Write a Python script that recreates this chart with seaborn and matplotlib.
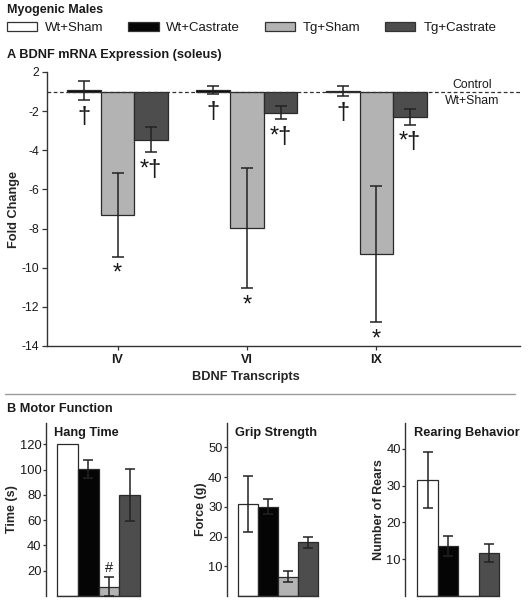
import numpy as np
import pandas as pd
import matplotlib
matplotlib.use('Agg')
import matplotlib.pyplot as plt
import seaborn as sns
from matplotlib.patches import Patch
from matplotlib.lines import Line2D

# groups / colours
groups = ['Wt+Sham', 'Wt+Castrate', 'Tg+Sham', 'Tg+Castrate']
colors = ['#ffffff', '#050505', '#b3b3b3', '#4d4d4d']

# A: BDNF mRNA fold change (Wt+Sham is the control line)
transcripts = ['IV', 'VI', 'IX']
wt_castrate_fc = [1.06, 1.07, 1.04]
wt_castrate_err = [0.47, 0.21, 0.26]
tg_sham_fc = [-7.31, -7.98, -9.30]
tg_sham_err = [2.13, 3.08, 3.49]
tg_castrate_fc = [-3.45, -2.08, -2.29]
tg_castrate_err = [0.66, 0.34, 0.41]
fc_marks = [['†', '*', '*†'], ['†', '*', '*†'], ['†', '*', '*†']]
fc_ticks = [2, -2, -4, -6, -8, -10, -12, -14]

# B: motor function
hang_time = [120, 100.5, 7.4, 80.1]
hang_err = [np.nan, 6.8, 7.4, 20.5]
grip = [31.0, 30.1, 6.5, 18.0]
grip_err = [9.5, 2.6, 1.8, 1.8]
rears = [31.5, 13.6, 0, 11.7]
rears_err = [7.5, 2.8, np.nan, 2.4]

sns.set_theme(style='white')
plt.rcParams['font.family'] = ['Liberation Sans', 'DejaVu Sans']
plt.rcParams['axes.edgecolor'] = '#333333'
plt.rcParams['axes.linewidth'] = 1.0
plt.rcParams['text.color'] = '#1a1a1a'
plt.rcParams['xtick.color'] = '#333333'
plt.rcParams['ytick.color'] = '#333333'
plt.rcParams['xtick.labelcolor'] = '#1a1a1a'
plt.rcParams['ytick.labelcolor'] = '#1a1a1a'

W, H = 529, 600
fig = plt.figure(figsize=(W / 100, H / 100), dpi=100)


def fig_box(x0, y_top, x1, y_bot):
    return [x0 / W, 1 - y_bot / H, (x1 - x0) / W, (y_bot - y_top) / H]


def to_axis(f):
    # fold change axis jumps from +1 to -1 at the control line
    return f - 1 if f > 0 else f + 1


# headers, legend, separator
fig.text(7 / W, 1 - 10 / H, 'Myogenic Males', fontsize=9, fontweight='bold', va='center')
fig.text(7 / W, 1 - 55 / H, 'A BDNF mRNA Expression (soleus)', fontsize=9.2, fontweight='bold', va='center')
fig.text(7 / W, 1 - 409 / H, 'B Motor Function', fontsize=9.2, fontweight='bold', va='center')
fig.add_artist(Line2D([5 / W, 515 / W], [1 - 394 / H, 1 - 394 / H], color='#9a9a9a', lw=1.0))

handles = [Patch(facecolor=c, edgecolor='#333333', linewidth=0.9) for c in colors]
fig.legend(handles, groups, loc='center left', bbox_to_anchor=(7 / W, 1 - 28 / H), ncol=4,
           frameon=False, fontsize=9.5, handlelength=2.3, handleheight=0.75,
           handletextpad=0.6, columnspacing=1.85, borderpad=0, borderaxespad=0)

# ---- panel A ----
hue_order = ['Wt+Castrate', 'Tg+Sham', 'Tg+Castrate']
rows = []
for i, t in enumerate(transcripts):
    for g, vals, errs in zip(hue_order,
                             [wt_castrate_fc, tg_sham_fc, tg_castrate_fc],
                             [wt_castrate_err, tg_sham_err, tg_castrate_err]):
        rows.append({'transcript': t, 'group': g, 'pos': to_axis(vals[i]), 'err': errs[i], 'ti': i})
df = pd.DataFrame(rows)
df['gi'] = df['group'].map({g: k for k, g in enumerate(hue_order)})
df = df.sort_values(['ti', 'gi']).reset_index(drop=True)

ax = fig.add_axes(fig_box(47, 72, 520, 346))
sns.barplot(data=df, x='transcript', y='pos', hue='group', order=transcripts, hue_order=hue_order,
            palette=colors[1:], width=0.78, errorbar=None, edgecolor='#2a2a2a', linewidth=0.9,
            legend=False, ax=ax)
bars = sorted([p for p in ax.patches], key=lambda p: p.get_x())
xs = [p.get_x() + p.get_width() / 2 for p in bars]
ax.errorbar(xs, df['pos'], yerr=df['err'], fmt='none', ecolor='#222222', elinewidth=1.1,
            capsize=4.3, capthick=1.1, zorder=4)
for x, (_, r) in zip(xs, df.iterrows()):
    ax.annotate(fc_marks[r['ti']][r['gi']], xy=(x, r['pos'] - r['err']), xytext=(0, -4.5),
                textcoords='offset points', ha='center', va='top', fontsize=17)

ax.axhline(0, color='#333333', lw=0.9, ls=(0, (3, 2)), zorder=3)
ax.annotate('Control', xy=(0.8985, 0), xycoords=('axes fraction', 'data'), xytext=(0, 2.5),
            textcoords='offset points', ha='center', va='baseline', fontsize=8.8)
ax.annotate('Wt+Sham', xy=(0.8985, 0), xycoords=('axes fraction', 'data'), xytext=(0, -2.5),
            textcoords='offset points', ha='center', va='top', fontsize=8.8)

ax.set_xlim(-0.545, 3.11)
ax.set_ylim(to_axis(-14), to_axis(2))
ax.set_yticks([to_axis(v) for v in fc_ticks])
ax.set_yticklabels([str(v) for v in fc_ticks])
ax.tick_params(axis='y', length=3.5, width=0.9, pad=2, labelsize=8.8, left=True)
ax.tick_params(axis='x', length=3, width=0.9, pad=3, bottom=True)
for lab in ax.get_xticklabels():
    lab.set_fontweight('bold')
    lab.set_fontsize(9)
ax.set_xlabel('BDNF Transcripts', fontsize=9.2, fontweight='bold')
ax.xaxis.set_label_coords(0.42, -0.09)
ax.set_ylabel('Fold Change', fontsize=9.2, fontweight='bold')
ax.yaxis.set_label_coords(-0.057, 0.5)
sns.despine(ax=ax)

# ---- panel B ----
panels = [
    ('Hang Time', 'Time (s)', hang_time, hang_err, [20, 40, 60, 80, 100, 120], 136.8,
     (45.7, 96.5), -1.04, -0.287, {2: '#'}),
    ('Grip Strength', 'Force (g)', grip, grip_err, [10, 20, 30, 40, 50], 58.2,
     (226.7, 93.6), -1.08, -0.21, {}),
    ('Rearing Behavior', 'Number of Rears', rears, rears_err, [10, 20, 30, 40], 47.0,
     (405, 96.4), -1.1, -0.207, {}),
]
for title, ylabel, vals, errs, ticks, ytop, (left, width), xmin, ylab_x, marks in panels:
    bx = fig.add_axes(fig_box(left, 423, left + width, 596))
    sns.barplot(x=groups, y=vals, hue=groups, palette=colors, width=1.0, errorbar=None,
                edgecolor='#2a2a2a', linewidth=0.9, legend=False, ax=bx)
    bars = sorted([p for p in bx.patches], key=lambda p: p.get_x())
    cx = [p.get_x() + p.get_width() / 2 for p in bars]
    bx.errorbar(cx, vals, yerr=errs, fmt='none', ecolor='#222222', elinewidth=1.1,
                capsize=3.6, capthick=1.1, zorder=4)
    for k, m in marks.items():
        bx.annotate(m, xy=(cx[k], vals[k] + errs[k]), xytext=(0, 3.6), textcoords='offset points',
                    ha='center', va='baseline', fontsize=10.5)
    bx.set_xlim(xmin, 3.6)
    bx.set_ylim(0, ytop)
    bx.set_yticks(ticks)
    bx.set_xticks([])
    bx.tick_params(axis='y', length=2.5, width=0.9, pad=0.5, labelsize=9.3, left=True)
    bx.text(0.09, 0.942, title, transform=bx.transAxes, fontsize=9.2, fontweight='bold', va='center')
    bx.set_ylabel(ylabel, fontsize=9, fontweight='bold')
    bx.yaxis.set_label_coords(ylab_x, 0.5)
    bx.set_xlabel('')
    sns.despine(ax=bx)
    bx.spines['bottom'].set_bounds(-0.5, 3.5)

fig.savefig('out.png', dpi=100)
